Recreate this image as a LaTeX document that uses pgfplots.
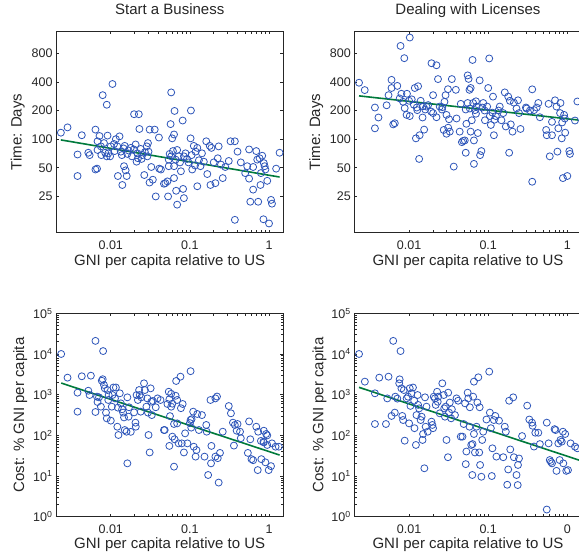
\documentclass[border=0pt]{standalone}
\usepackage{fontspec}
\setmainfont{Liberation Sans}
\usepackage{pgfplots}
\pgfplotsset{compat=1.18}
\definecolor{mblue}{RGB}{45,85,185}
\definecolor{mgreen}{RGB}{0,122,60}
\definecolor{axgray}{RGB}{38,38,38}
\begin{document}
\begin{tikzpicture}
% ---------------- top left
\begin{axis}[at={(56pt,-232.7pt)}, anchor=south west,
    scale only axis, width=227.4pt, height=201.4pt,
    xmode=log, ymode=log, xmin=0.00203, xmax=1.52, ymin=10.4, ymax=1360,
    xtick={0.01,0.1,1}, xticklabels={0.01,0.1,1},
    ytick={25,50,100,200,400,800}, yticklabels={25,50,100,200,400,800},
    minor tick num=0,
    tick align=inside, major tick length=3pt,
    axis line style={axgray, line width=0.9pt},
    tick style={axgray, line width=0.7pt},
    tick label style={font=\fontsize{12.5}{14}\selectfont, text=axgray},
    xticklabel style={anchor=base, yshift=-17pt},
    title={Start a Business},
    title style={font=\fontsize{15}{18}\selectfont, text=axgray, at={(axis description cs:0.5,1)}, anchor=base, yshift=10.8pt},
    xlabel={GNI per capita relative to US}, ylabel={Time: Days},
    label style={font=\fontsize{15}{18}\selectfont, text=axgray},
    xlabel style={at={(axis description cs:0.5,-0.1639)}, anchor=base},
    ylabel style={at={(axis description cs:-0.1508,0.5)}, anchor=base}]
\addplot[only marks, mark=o, mark size=3.5pt, mark options={draw=mblue, line width=0.8pt}] table {
x y
0.00234 117
0.00284 133
0.0038 69
0.0038 41
0.0043 110
0.0052 72
0.0054 68
0.0064 126
0.0068 95
0.0067 49
0.0064 48
0.0072 108
0.0068 77
0.0075 84
0.0076 68
0.0079 290
0.0082 91
0.0089 230
0.0091 109
0.0089 66
0.0093 71
0.0100 84
0.0105 380
0.0110 89
0.0116 100
0.0121 84
0.0123 41
0.0129 107
0.0134 74
0.0140 33
0.0147 52
0.0150 85
0.0159 41
0.0154 47
0.0162 70
0.0168 76
0.0179 81
0.0197 183
0.0226 183
0.0206 88
0.0217 71
0.0221 63
0.0230 128
0.0239 79
0.0250 68
0.0265 42
0.0285 84
0.0295 91
0.0300 74
0.0309 35
0.0310 126
0.0325 51
0.0340 37.5
0.0359 126
0.0370 25
0.0406 104
0.0410 49
0.0470 34
0.0490 34.5
0.0520 36
0.0530 25
0.0540 52
0.0540 61
0.0555 70
0.0570 144
0.0580 310
0.0597 102
0.0630 112
0.0630 39
0.0630 52
0.0640 198
0.0670 28.7
0.0690 20.5
0.0690 77
0.0720 66
0.0770 46
0.0810 157
0.0820 30
0.0840 24
0.0840 66
0.0880 71
0.103 200
0.102 102
0.107 48
0.112 85
0.116 53
0.124 32
0.124 81
0.136 52
0.142 71
0.161 95
0.166 43
0.178 85
0.182 33
0.187 81
0.210 34.5
0.231 84
0.225 63
0.247 54
0.260 39
0.326 95
0.310 59
0.370 95
0.370 14.2
0.400 74
0.440 57
0.560 78
0.560 38.5
0.580 22
0.630 29.5
0.690 75
0.730 22
0.760 63
0.780 33
0.820 67
0.850 14.4
0.860 56
0.900 48
0.950 36.5
1.00 13
1.06 23
1.09 21
1.23 49
1.36 72
0.710 61
0.530 52
0.0085 72
0.0098 66
0.0112 75
0.0138 68
0.0145 80
0.0185 66
0.0195 78
0.0212 58
0.0245 62
0.0270 73
0.0290 66
0.0430 48
0.0580 66
0.0610 75
0.0660 61
0.0750 57
0.0920 62
0.0960 57
0.105 68
0.118 74
0.130 60
0.150 58
0.200 57
0.280 51
0.500 44
0.630 51
0.880 52
0.790 44
};
\addplot[mgreen, line width=1.6pt, mark=none] coordinates {(0.00234,98.2) (1.36,40.0)};
\end{axis}
% ---------------- top right
\begin{axis}[at={(354.3pt,-232.7pt)}, anchor=south west,
    scale only axis, width=227.4pt, height=201.4pt,
    xmode=log, ymode=log, xmin=0.00203, xmax=1.52, ymin=10.4, ymax=1360,
    xtick={0.01,0.1,1}, xticklabels={0.01,0.1,1},
    ytick={25,50,100,200,400,800}, yticklabels={25,50,100,200,400,800},
    minor tick num=0,
    tick align=inside, major tick length=3pt,
    axis line style={axgray, line width=0.9pt},
    tick style={axgray, line width=0.7pt},
    tick label style={font=\fontsize{12.5}{14}\selectfont, text=axgray},
    xticklabel style={anchor=base, yshift=-17pt},
    title={Dealing with Licenses},
    title style={font=\fontsize{15}{18}\selectfont, text=axgray, at={(axis description cs:0.5,1)}, anchor=base, yshift=10.8pt},
    xlabel={GNI per capita relative to US}, ylabel={Time: Days},
    label style={font=\fontsize{15}{18}\selectfont, text=axgray},
    xlabel style={at={(axis description cs:0.5,-0.1639)}, anchor=base},
    ylabel style={at={(axis description cs:-0.1508,0.5)}, anchor=base}]
\addplot[only marks, mark=o, mark size=3.5pt, mark options={draw=mblue, line width=0.8pt}] table {
x y
0.00233 392
0.00275 328
0.0037 215
0.0037 130
0.0041 169
0.0052 227
0.0055 290
0.0060 420
0.0060 345
0.0063 143
0.0066 147
0.0071 363
0.0076 268
0.0078 955
0.0080 300
0.0084 247
0.0087 710
0.0088 212
0.0093 180
0.0094 300
0.0102 1170
0.0100 253
0.0102 175
0.0108 262
0.0118 345
0.0122 102
0.0130 360
0.0127 202
0.0134 62
0.0136 110
0.0140 253
0.0150 222
0.0148 169
0.0155 126
0.0166 220
0.0174 228
0.0192 628
0.0222 598
0.0201 290
0.0201 188
0.0232 428
0.0222 170
0.0244 220
0.0263 217
0.0274 125
0.0280 247
0.0289 290
0.0297 180
0.0297 114
0.0310 335
0.0312 132
0.0320 162
0.0327 120
0.0347 428
0.0367 51.5
0.0390 330
0.0398 165
0.0436 120
0.0465 93
0.0483 96
0.0506 97
0.0520 72
0.0530 145
0.0550 240
0.0550 468
0.0565 430
0.0580 330
0.0586 210
0.0600 345
0.0600 120
0.0620 158
0.0634 680
0.0645 240
0.0660 97
0.0660 55
0.0680 202
0.0712 220
0.0740 116
0.0780 415
0.0790 68
0.0820 75
0.0840 215
0.0865 240
0.0910 158
0.0970 220
0.103 705
0.100 345
0.105 175
0.108 141
0.113 190
0.115 280
0.118 110
0.125 175
0.140 220
0.147 158
0.155 188
0.162 310
0.167 136
0.179 280
0.188 253
0.184 72
0.193 143
0.203 120
0.211 242
0.228 210
0.238 256
0.245 188
0.256 128
0.305 210
0.337 200
0.360 334
0.360 35.7
0.380 202
0.410 215
0.430 240
0.450 170
0.540 125
0.550 110
0.580 235
0.600 66
0.640 152
0.640 110
0.700 256
0.730 220
0.750 74
0.770 130
0.810 188
0.820 240
0.850 102
0.880 39
0.910 180
0.940 117
1.00 41
1.06 75
1.08 70
1.25 157
1.34 249
0.0115 230
0.0125 215
0.0160 205
0.0190 195
0.0260 205
0.0450 235
0.0520 205
0.0700 250
0.0900 200
0.120 160
0.135 200
0.0700 185
0.300 215
0.930 165
0.860 150
};
\addplot[mgreen, line width=1.6pt, mark=none] coordinates {(0.00233,285) (1.37,159)};
\end{axis}
% ---------------- bottom left
\begin{axis}[at={(56pt,-516.7pt)}, anchor=south west,
    scale only axis, width=227.4pt, height=203.4pt,
    xmode=log, ymode=log, xmin=0.00203, xmax=1.52, ymin=1, ymax=100000,
    xtick={0.01,0.1,1}, xticklabels={0.01,0.1,1},
    ytick={1,10,100,1000,10000,100000},
    yticklabels={10\textsuperscript{0},10\textsuperscript{1},10\textsuperscript{2},10\textsuperscript{3},10\textsuperscript{4},10\textsuperscript{5}},
    minor tick num=0,
    tick align=inside, major tick length=3pt,
    axis line style={axgray, line width=0.9pt},
    tick style={axgray, line width=0.7pt},
    tick label style={font=\fontsize{12.5}{14}\selectfont, text=axgray},
    xticklabel style={anchor=base, yshift=-17pt},
    xlabel={GNI per capita relative to US}, ylabel={Cost: \% GNI per capita},
    label style={font=\fontsize{15}{18}\selectfont, text=axgray},
    xlabel style={at={(axis description cs:0.5,-0.1554)}, anchor=base},
    ylabel style={at={(axis description cs:-0.1407,0.5)}, anchor=base}]
\addplot[only marks, mark=o, mark size=3.5pt, mark options={draw=mblue, line width=0.8pt}] table {
x y
0.00236 10000
0.00284 2620
0.0038 1120
0.0038 382
0.0043 2830
0.0052 1250
0.0054 980
0.0056 2930
0.0064 375
0.0064 21000
0.0067 893
0.0068 660
0.0071 860
0.0075 507
0.0077 2200
0.0079 2400
0.0080 11800
0.0082 1730
0.0084 1430
0.0087 362
0.0089 262
0.0091 1300
0.0093 740
0.0094 980
0.0100 230
0.0103 507
0.0105 980
0.0108 1500
0.0113 810
0.0116 1500
0.0121 163
0.0123 480
0.0125 102
0.0130 1080
0.0134 612
0.0139 437
0.0143 362
0.0147 276
0.0150 135
0.0158 123
0.0162 860
0.0162 20.5
0.0168 288
0.0170 490
0.0179 122
0.0197 367
0.0205 205
0.0207 163
0.0212 980
0.0220 740
0.0228 1300
0.0232 980
0.0239 382
0.0243 860
0.0263 1900
0.0270 1300
0.0282 507
0.0290 810
0.0295 362
0.0300 102
0.0310 38
0.0319 1430
0.0325 670
0.0330 315
0.0340 700
0.0370 490
0.0390 810
0.0425 740
0.0470 135
0.0480 135
0.0520 590
0.0540 1180
0.0550 55
0.0550 770
0.0560 297
0.0580 507
0.0600 93
0.0630 17
0.0630 190
0.0640 80
0.0660 940
0.0670 2170
0.0690 197
0.0690 740
0.0720 63.5
0.0760 2770
0.0770 465
0.0790 63.5
0.0810 590
0.0840 38
0.0870 112
0.0930 63.5
0.102 3780
0.102 238
0.104 155
0.110 382
0.112 52.6
0.118 30
0.121 43.5
0.124 335
0.130 135
0.142 315
0.153 30
0.161 180
0.163 123
0.170 10.6
0.182 740
0.185 20.5
0.187 55
0.210 810
0.210 30
0.225 27.5
0.231 6.9
0.240 37
0.260 123
0.310 525
0.330 348
0.350 205
0.360 56
0.370 180
0.390 130
0.430 123
0.440 85
0.540 37
0.560 220
0.580 80
0.600 26
0.630 24.5
0.690 163
0.720 14
0.730 123
0.790 73
0.800 26
0.860 67
0.860 130
0.900 21.7
0.920 108
0.950 58
0.990 14
1.06 17.5
1.09 63.5
1.21 52.6
1.33 52.6
0.0580 1050
0.0600 600
0.100 200
0.105 250
0.220 900
0.400 190
0.850 70
0.950 100
};
\addplot[mgreen, line width=1.6pt, mark=none] coordinates {(0.00236,1932) (1.36,32.8)};
\end{axis}
% ---------------- bottom right
\begin{axis}[at={(354.3pt,-516.7pt)}, anchor=south west,
    scale only axis, width=227.4pt, height=203.4pt,
    xmode=log, ymode=log, xmin=0.00203, xmax=1.52, ymin=1, ymax=100000,
    xtick={0.01,0.1,1}, xticklabels={0.01,0.1,0},
    ytick={1,10,100,1000,10000,100000},
    yticklabels={10\textsuperscript{0},10\textsuperscript{1},10\textsuperscript{2},10\textsuperscript{3},10\textsuperscript{4},10\textsuperscript{5}},
    minor tick num=0,
    tick align=inside, major tick length=3pt,
    axis line style={axgray, line width=0.9pt},
    tick style={axgray, line width=0.7pt},
    tick label style={font=\fontsize{12.5}{14}\selectfont, text=axgray},
    xticklabel style={anchor=base, yshift=-17pt},
    xlabel={GNI per capita relative to US}, ylabel={Cost: \% GNI per capita},
    label style={font=\fontsize{15}{18}\selectfont, text=axgray},
    xlabel style={at={(axis description cs:0.5,-0.1554)}, anchor=base},
    ylabel style={at={(axis description cs:-0.1363,0.5)}, anchor=base}]
\addplot[only marks, mark=o, mark size=3.5pt, mark options={draw=mblue, line width=0.8pt}] table {
x y
0.00233 10000
0.00276 2090
0.0037 1080
0.0037 190
0.0042 2620
0.0051 190
0.0055 2770
0.0053 810
0.0060 300
0.0063 21000
0.0066 362
0.0067 893
0.0071 800
0.0075 1900
0.0076 2380
0.0078 11800
0.0080 1430
0.0082 300
0.0084 238
0.0086 1300
0.0088 74
0.0093 810
0.0097 893
0.0100 197
0.0102 1430
0.0104 530
0.0107 1080
0.0112 1500
0.0116 710
0.0117 150
0.0122 58
0.0124 315
0.0128 980
0.0130 560
0.0134 460
0.0140 238
0.0144 288
0.0148 77
0.0150 108
0.0156 15.5
0.0159 860
0.0162 163
0.0166 507
0.0172 123
0.0192 217
0.0197 180
0.0201 150
0.0205 893
0.0212 810
0.0217 560
0.0226 1180
0.0230 670
0.0234 893
0.0244 348
0.0263 1900
0.0274 980
0.0278 460
0.0284 288
0.0290 507
0.0297 77
0.0310 29
0.0312 1120
0.0320 362
0.0327 640
0.0340 262
0.0347 437
0.0380 315
0.0398 810
0.0417 710
0.0450 93
0.0473 93
0.0490 190
0.0510 612
0.0520 19.6
0.0530 40
0.0550 1120
0.0560 810
0.0580 163
0.0586 490
0.0610 58
0.0630 10.6
0.0634 61
0.0645 893
0.0660 2090
0.0660 108
0.0680 38
0.0712 163
0.0730 640
0.0750 2670
0.0770 38
0.0780 490
0.0790 18.7
0.0820 9.6
0.0840 77
0.0865 123
0.0950 245
0.103 3680
0.105 362
0.108 150
0.111 10
0.113 48
0.118 238
0.123 300
0.127 30
0.137 230
0.155 29
0.162 163
0.167 123
0.174 6.1
0.179 14.5
0.184 710
0.190 45
0.207 860
0.211 29
0.228 10.6
0.236 6
0.238 18.7
0.245 27
0.268 96
0.311 537
0.331 245
0.358 205
0.364 172
0.379 53
0.394 116
0.430 116
0.450 61
0.550 205
0.580 63.5
0.600 24.7
0.620 22.3
0.640 20.5
0.550 1.5
0.690 142
0.710 135
0.730 13.4
0.770 63.5
0.800 24.7
0.820 77
0.850 70
0.880 123
0.890 20.5
0.940 108
0.970 13.4
1.02 14
1.10 63.5
1.25 52.6
1.34 48
};
\addplot[mgreen, line width=1.6pt, mark=none] coordinates {(0.00233,1513) (1.52,23.4)};
\end{axis}
\pgfresetboundingbox
\path[use as bounding box] (0pt,0pt) rectangle (579pt,-552pt);
\end{tikzpicture}
\end{document}
